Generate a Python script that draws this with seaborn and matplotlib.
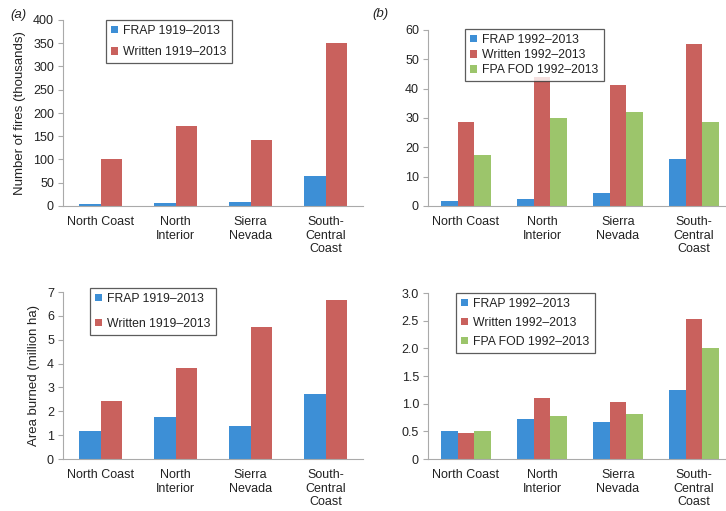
import numpy as np
import pandas as pd
import matplotlib
matplotlib.use("Agg")
import matplotlib.pyplot as plt
from matplotlib.patches import Patch
import seaborn as sns

# Regions (x categories)
regions = ["North Coast", "North\nInterior", "Sierra\nNevada", "South-\nCentral\nCoast"]

# Number of fires (thousands)
fires_frap_1919 = [4, 6, 8, 64]
fires_written_1919 = [102, 171, 142, 350]
fires_frap_1992 = [1.7, 2.4, 4.4, 16.1]
fires_written_1992 = [28.6, 44.1, 41.2, 55.2]
fires_fod_1992 = [17.5, 30.1, 32.2, 28.6]

# Area burned (million ha)
area_frap_1919 = [1.18, 1.78, 1.38, 2.74]
area_written_1919 = [2.45, 3.80, 5.55, 6.65]
area_frap_1992 = [0.51, 0.73, 0.66, 1.24]
area_written_1992 = [0.47, 1.10, 1.03, 2.53]
area_fod_1992 = [0.50, 0.78, 0.81, 2.00]

labels_1919 = ["FRAP 1919\u20132013", "Written 1919\u20132013"]
labels_1992 = ["FRAP 1992\u20132013", "Written 1992\u20132013", "FPA FOD 1992\u20132013"]

BLUE, RED, GREEN = "#3d8fd6", "#c9615d", "#9cc56b"

sns.set_theme(style="white")
plt.rcParams["font.family"] = ["Liberation Sans", "DejaVu Sans"]
plt.rcParams["text.color"] = "#222222"

W, H = 726, 511
fig = plt.figure(figsize=(W / 100, H / 100), dpi=100)


def px_axes(left, right, top, bottom):
    return fig.add_axes([left / W, 1 - bottom / H, (right - left) / W, (bottom - top) / H])


def draw_panel(ax, series, labels, colors, width, ymax, yticks, yticklabels,
               leg_xy, leg_spacing, ylabel=None):
    frames = []
    for vals, lab in zip(series, labels):
        frames.append(pd.DataFrame({"region": regions, "value": vals, "source": lab}))
    df = pd.concat(frames, ignore_index=True)
    sns.barplot(data=df, x="region", y="value", hue="source", order=regions,
                hue_order=labels, palette=colors, width=width, saturation=1,
                linewidth=0, errorbar=None, ax=ax, legend=False)
    ax.set_xlim(-0.5, 3.5)
    ax.set_ylim(0, ymax)
    ax.set_yticks(yticks)
    ax.set_yticklabels(yticklabels)
    ax.set_xticks(range(len(regions)))
    ax.set_xticklabels(regions, multialignment="center", linespacing=1.2)
    ax.set_xticks([0.5, 1.5, 2.5], minor=True)
    ax.tick_params(axis="x", which="major", length=0, pad=7, labelsize=9, colors="#222222")
    ax.tick_params(axis="x", which="minor", length=3, width=0.8, color="#aaaaaa", direction="out")
    ax.tick_params(axis="y", length=3.5, width=0.8, color="#aaaaaa", direction="out",
                   pad=3, labelsize=9, labelcolor="#222222", left=True)
    for side in ("top", "right"):
        ax.spines[side].set_visible(False)
    for side in ("left", "bottom"):
        ax.spines[side].set_color("#aaaaaa")
        ax.spines[side].set_linewidth(0.8)
    ax.set_xlabel("")
    if ylabel:
        ax.set_ylabel(ylabel, fontsize=9.5, color="#222222", labelpad=5)
    else:
        ax.set_ylabel("")
    handles = [Patch(facecolor=c, edgecolor="none") for c in colors]
    leg = ax.legend(handles, labels, loc="upper left",
                    bbox_to_anchor=(leg_xy[0] / W, 1 - leg_xy[1] / H),
                    bbox_transform=fig.transFigure, borderaxespad=0,
                    frameon=True, fancybox=False, fontsize=8.8,
                    handlelength=0.55, handleheight=0.55, handletextpad=0.45,
                    borderpad=0.42, labelspacing=leg_spacing)
    leg.get_frame().set_edgecolor("#333333")
    leg.get_frame().set_linewidth(0.9)


ax_a = px_axes(63, 363, 20, 206)
draw_panel(ax_a, [fires_frap_1919, fires_written_1919], labels_1919, [BLUE, RED],
           0.58, 400, range(0, 401, 50), [str(v) for v in range(0, 401, 50)],
           (106, 20), 0.75, "Number of fires (thousands)")

ax_b = px_axes(428, 732, 30, 206)
draw_panel(ax_b, [fires_frap_1992, fires_written_1992, fires_fod_1992], labels_1992,
           [BLUE, RED, GREEN], 0.66, 60, range(0, 61, 10),
           [str(v) for v in range(0, 61, 10)], (465, 29), 0.25)

ax_c = px_axes(63, 363, 292, 459)
draw_panel(ax_c, [area_frap_1919, area_written_1919], labels_1919, [BLUE, RED],
           0.58, 7, range(0, 8), [str(v) for v in range(0, 8)],
           (90, 288), 1.05, "Area burned (million ha)")

d_ticks = [0, 0.5, 1.0, 1.5, 2.0, 2.5, 3.0]
ax_d = px_axes(428, 732, 293, 459)
draw_panel(ax_d, [area_frap_1992, area_written_1992, area_fod_1992], labels_1992,
           [BLUE, RED, GREEN], 0.66, 3.0, d_ticks,
           ["0"] + [f"{v:.1f}" for v in d_ticks[1:]], (456, 293), 0.55)

fig.text(18 / W, 1 - 15 / H, "(a)", fontsize=9.5, style="italic", ha="center", va="center")
fig.text(380 / W, 1 - 14 / H, "(b)", fontsize=9.5, style="italic", ha="center", va="center")

fig.savefig("out.png", dpi=100, facecolor="white")
